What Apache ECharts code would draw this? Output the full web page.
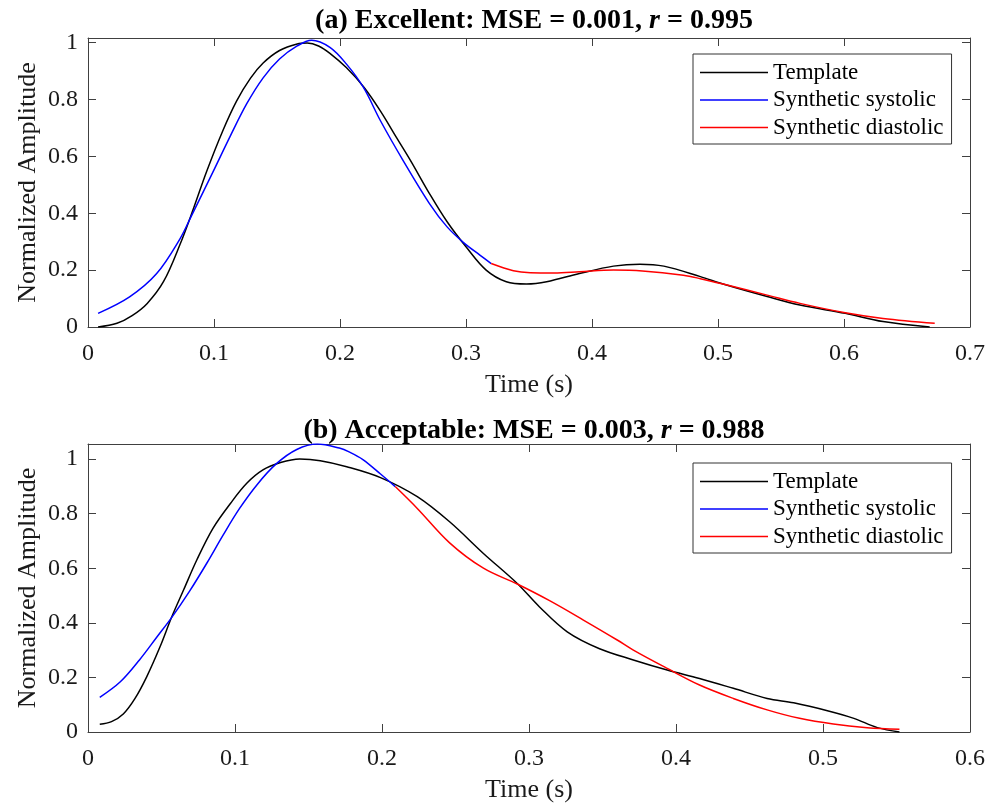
<!DOCTYPE html>
<html>
<head>
<meta charset="utf-8">
<script src="https://cdn.jsdelivr.net/npm/echarts@6/dist/echarts.min.js"></script>
<style>
html,body{margin:0;padding:0;background:#fff;}
#chart{width:995px;height:806px;}
</style>
</head>
<body>
<div id="chart"></div>
<script>
// ---------- Data ----------
const seriesNames = ['Template', 'Synthetic systolic', 'Synthetic diastolic'];
const titleA = ['(a) Excellent: MSE = 0.001, ', 'r', ' = 0.995'];
const titleB = ['(b) Acceptable: MSE = 0.003, ', 'r', ' = 0.988'];
const xLabel = 'Time (s)';
const yLabel = 'Normalized Amplitude';

// Panel (a)
const aTemplateT = [0.008, 0.023, 0.035, 0.047, 0.060, 0.073, 0.084, 0.094, 0.107, 0.118, 0.129, 0.139, 0.152, 0.166, 0.174, 0.183, 0.192, 0.205, 0.219, 0.232, 0.245, 0.256, 0.271, 0.285, 0.300, 0.316, 0.332, 0.348, 0.364, 0.390, 0.417, 0.438, 0.457, 0.486, 0.504, 0.539, 0.565, 0.601, 0.631, 0.668];
const aTemplateV = [0.000, 0.013, 0.040, 0.083, 0.160, 0.290, 0.420, 0.545, 0.690, 0.795, 0.875, 0.928, 0.972, 0.995, 0.998, 0.988, 0.962, 0.912, 0.843, 0.760, 0.665, 0.585, 0.469, 0.370, 0.282, 0.200, 0.159, 0.151, 0.159, 0.188, 0.214, 0.221, 0.214, 0.177, 0.151, 0.107, 0.077, 0.048, 0.019, 0.000];
const aSystolicT = [0.008, 0.033, 0.0545, 0.073, 0.082, 0.0995, 0.113, 0.126, 0.139, 0.152, 0.166, 0.1775, 0.192, 0.205, 0.2185, 0.232, 0.250, 0.271, 0.285, 0.299, 0.311, 0.320];
const aSystolicV = [0.048, 0.106, 0.188, 0.310, 0.390, 0.548, 0.672, 0.785, 0.876, 0.942, 0.988, 1.008, 0.983, 0.925, 0.843, 0.726, 0.586, 0.434, 0.352, 0.293, 0.253, 0.223];
const aDiastolicT = [0.320, 0.3376, 0.351, 0.370, 0.390, 0.417, 0.440, 0.4725, 0.486, 0.504, 0.539, 0.565, 0.601, 0.631, 0.672];
const aDiastolicV = [0.223, 0.198, 0.191, 0.190, 0.194, 0.200, 0.197, 0.182, 0.170, 0.151, 0.112, 0.083, 0.050, 0.030, 0.013];

// Panel (b)
const bTemplateT = [0.008, 0.016, 0.024, 0.032, 0.040, 0.049, 0.057, 0.065, 0.074, 0.085, 0.097, 0.108, 0.119, 0.131, 0.144, 0.158, 0.176, 0.199, 0.224, 0.246, 0.269, 0.292, 0.307, 0.326, 0.348, 0.371, 0.394, 0.416, 0.439, 0.462, 0.480, 0.503, 0.521, 0.537, 0.552];
const bTemplateV = [0.028, 0.038, 0.066, 0.123, 0.203, 0.312, 0.422, 0.520, 0.630, 0.746, 0.838, 0.911, 0.960, 0.987, 1.000, 0.994, 0.972, 0.932, 0.862, 0.770, 0.654, 0.544, 0.459, 0.367, 0.305, 0.264, 0.227, 0.196, 0.160, 0.123, 0.107, 0.078, 0.050, 0.016, 0.000];
const bSystolicT = [0.008, 0.022, 0.035, 0.047, 0.057, 0.069, 0.081, 0.092, 0.103, 0.115, 0.128, 0.142, 0.156, 0.171, 0.178, 0.187, 0.199, 0.209];
const bSystolicV = [0.127, 0.184, 0.264, 0.349, 0.420, 0.515, 0.620, 0.722, 0.818, 0.906, 0.982, 1.035, 1.055, 1.040, 1.025, 0.998, 0.945, 0.899];
const bDiastolicT = [0.209, 0.224, 0.246, 0.269, 0.292, 0.314, 0.337, 0.360, 0.371, 0.394, 0.416, 0.439, 0.462, 0.484, 0.507, 0.530, 0.552];
const bDiastolicV = [0.899, 0.819, 0.693, 0.600, 0.542, 0.481, 0.410, 0.337, 0.300, 0.233, 0.172, 0.123, 0.081, 0.050, 0.029, 0.016, 0.010];

const xTicksA = [0, 0.1, 0.2, 0.3, 0.4, 0.5, 0.6, 0.7];
const xTicksB = [0, 0.1, 0.2, 0.3, 0.4, 0.5, 0.6];
const yTicks = [0, 0.2, 0.4, 0.6, 0.8, 1];

// ---------- Chart ----------
const FONT = 'Liberation Serif, Times New Roman, serif';
const AX = '#404040';
const colors = ['#000000', '#0000ff', '#ff0000'];
const pairs = (t, v) => t.map((x, i) => [x, v[i]]);
const fmt = step => v => {
  const k = v / step;
  return Math.abs(k - Math.round(k)) < 1e-6 ? String(+v.toFixed(1)) : '';
};

function xAxes(gridIndex, ticks) {
  const base = {
    type: 'value', gridIndex: gridIndex,
    min: ticks[0], max: ticks[ticks.length - 1], interval: 0.1,
    splitLine: { show: false },
    axisLine: { onZero: false, lineStyle: { color: AX, width: 1 } },
    axisTick: { inside: true, length: 8, lineStyle: { color: AX } }
  };
  return [
    Object.assign({}, base, {
      position: 'bottom',
      name: xLabel, nameLocation: 'middle', nameGap: 45, nameMoveOverlap: false,
      nameTextStyle: { fontFamily: FONT, fontSize: 26, color: '#1a1a1a' },
      axisLabel: { fontFamily: FONT, fontSize: 24, color: '#1a1a1a', margin: 15, formatter: fmt(0.1) }
    }),
    Object.assign({}, base, { position: 'top', axisLabel: { show: false } })
  ];
}
function yAxes(gridIndex, max) {
  const base = {
    type: 'value', gridIndex: gridIndex,
    min: yTicks[0], max: max, interval: 0.2,
    splitLine: { show: false },
    axisLine: { show: true, onZero: false, lineStyle: { color: AX, width: 1 } },
    axisTick: { show: true, inside: true, length: 8, lineStyle: { color: AX } }
  };
  return [
    Object.assign({}, base, {
      position: 'left',
      name: yLabel, nameLocation: 'middle', nameGap: 47, nameMoveOverlap: false,
      nameTextStyle: { fontFamily: FONT, fontSize: 26, color: '#1a1a1a' },
      axisLabel: { fontFamily: FONT, fontSize: 24, color: '#1a1a1a', margin: 10, formatter: fmt(0.2) }
    }),
    Object.assign({}, base, { position: 'right', axisLabel: { show: false } })
  ];
}
function makeTitle(parts, top) {
  return {
    left: 529, top: top, textAlign: 'center',
    text: '{b|' + parts[0] + '}{i|' + parts[1] + '}{b|' + parts[2] + '}',
    textStyle: {
      rich: {
        b: { fontFamily: FONT, fontSize: 28, fontWeight: 'bold', color: '#000' },
        i: { fontFamily: FONT, fontSize: 28, fontWeight: 'bold', fontStyle: 'italic', color: '#000' }
      }
    }
  };
}
function makeLegend(top) {
  return {
    orient: 'vertical', left: 693, top: top,
    data: seriesNames.slice(),
    icon: 'rect', itemWidth: 68, itemHeight: 1.5, itemGap: 4.5,
    padding: [7, 8, 5, 7],
    borderColor: '#333', borderWidth: 1, borderRadius: 0,
    backgroundColor: '#fff',
    selectedMode: false,
    textStyle: { fontFamily: FONT, fontSize: 23, lineHeight: 23, color: '#000' }
  };
}
function line(name, idx, xi, yi, data) {
  return {
    type: 'line', name: name, xAxisIndex: xi, yAxisIndex: yi,
    data: data, smooth: 0.35, symbol: 'none', showSymbol: false,
    color: colors[idx],
    lineStyle: { width: 1.5, color: colors[idx] },
    emphasis: { disabled: true }, z: 3
  };
}

const chart = echarts.init(document.getElementById('chart'), null, { renderer: 'canvas' });
chart.setOption({
  animation: false,
  backgroundColor: '#fff',
  title: [makeTitle(titleA, 2), makeTitle(titleB, 412)],
  legend: [makeLegend(54), makeLegend(463)],
  grid: [
    { left: 88, right: 25, top: 38, height: 289 },
    { left: 88, right: 25, top: 444, height: 288 }
  ],
  xAxis: xAxes(0, xTicksA).concat(xAxes(1, xTicksB)),
  yAxis: yAxes(0, 1.016).concat(yAxes(1, 1.055)),
  series: [
    line(seriesNames[0], 0, 0, 0, pairs(aTemplateT, aTemplateV)),
    line(seriesNames[1], 1, 0, 0, pairs(aSystolicT, aSystolicV)),
    line(seriesNames[2], 2, 0, 0, pairs(aDiastolicT, aDiastolicV)),
    line(seriesNames[0], 0, 2, 2, pairs(bTemplateT, bTemplateV)),
    line(seriesNames[1], 1, 2, 2, pairs(bSystolicT, bSystolicV)),
    line(seriesNames[2], 2, 2, 2, pairs(bDiastolicT, bDiastolicV))
  ]
});
</script>
</body>
</html>
